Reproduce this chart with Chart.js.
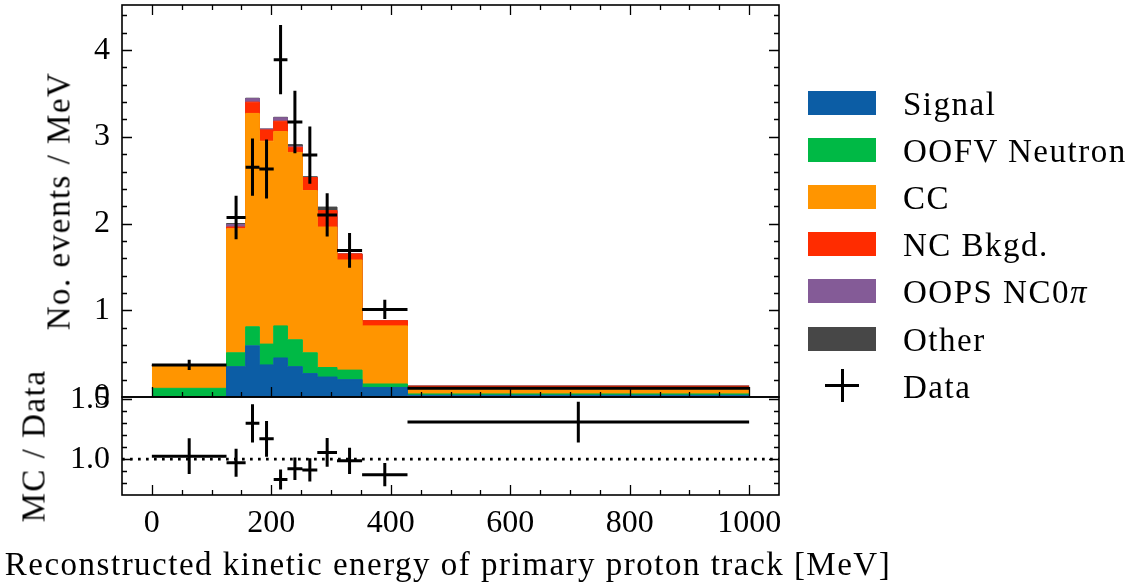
<!DOCTYPE html>
<html>
<head>
<meta charset="utf-8">
<script src="https://cdn.jsdelivr.net/npm/chart.js@4.4.1/dist/chart.umd.min.js"></script>
<style>
  body { margin: 0; background: #fff; }
  #wrap { position: relative; width: 1141px; height: 586px; font-family: 'Liberation Serif', serif; }
  canvas { position: absolute; left: 0; top: 0; }
  .key { position: absolute; left: 808px; width: 68px; height: 24px; }
  .txt { position: absolute; font-size: 33px; line-height: 33px; letter-spacing: 1.5px; color: #000; white-space: nowrap; }
  .rot { transform: translate(-50%, -50%) rotate(-90deg); }
  .bar { position: absolute; background: #000; }
</style>
</head>
<body>
<div id="wrap">
  <canvas id="main" width="1141" height="586"></canvas>
  <canvas id="ratio" width="1141" height="586"></canvas>
  <div id="legend"></div>
  <div class="txt rot" style="left:59px;top:201px">No. events / MeV</div>
  <div class="txt rot" style="left:34px;top:446px">MC / Data</div>
  <div class="txt" style="left:448px;top:548px;transform:translateX(-50%)">Reconstructed kinetic energy of primary proton track [MeV]</div>
</div>
<script>
// bin edges [MeV] and stacked MC components (events / MeV)
const edges = [0, 125, 157, 180, 204, 227, 252, 277, 310, 352, 428, 1000];
const signal      = [0.00, 0.35, 0.59, 0.37, 0.45, 0.35, 0.27, 0.23, 0.20, 0.11, 0.02];
const oofvNeutron = [0.10, 0.16, 0.22, 0.24, 0.37, 0.31, 0.24, 0.11, 0.11, 0.04, 0.015];
const cc          = [0.26, 1.43, 2.46, 2.34, 2.24, 2.16, 1.87, 1.62, 1.27, 0.67, 0.075];
const ncBkgd      = [0.005, 0.02, 0.13, 0.13, 0.12, 0.06, 0.15, 0.19, 0.07, 0.06, 0.015];
const oopsNC0pi   = [0.00, 0.03, 0.04, 0.01, 0.04, 0.01, 0.00, 0.00, 0.00, 0.00, 0.00];
const other       = [0.00, 0.01, 0.005, 0.00, 0.005, 0.02, 0.01, 0.04, 0.00, 0.00, 0.002];

// data points and MC / Data ratio
const dataVals  = [0.37, 2.07, 2.65, 2.63, 3.89, 3.17, 2.79, 2.10, 1.69, 1.01, 0.102];
const dataErr   = [0.06, 0.25, 0.33, 0.34, 0.40, 0.36, 0.33, 0.25, 0.20, 0.11, 0.01];
const ratioVals = [1.025, 0.97, 1.30, 1.17, 0.83, 0.92, 0.91, 1.056, 0.986, 0.87, 1.31];
const ratioErr  = [0.15, 0.117, 0.16, 0.15, 0.083, 0.094, 0.097, 0.12, 0.11, 0.097, 0.17];

const xTicks = [0, 200, 400, 600, 800, 1000];
const yTicks = [0, 1, 2, 3, 4];
const ratioTicks = [1.0, 1.5];

const labels = ['Signal', 'OOFV Neutron', 'CC', 'NC Bkgd.', 'OOPS NC0<i>π</i>', 'Other'];
const colors = ['#0C5DA5', '#00B945', '#FF9500', '#FF2C00', '#845B97', '#474747'];
const layers = [signal, oofvNeutron, cc, ncBkgd, oopsNC0pi, other];

Chart.defaults.font.family = "'Liberation Serif', serif";
Chart.defaults.font.size = 32;
Chart.defaults.color = '#000';

function histPoints(v) {
    return edges.map((e, k) => ({x: e, y: v[Math.min(k, v.length - 1)]}));
}

// horizontal bin-width bars and vertical error bars, broken by null points
function crossSegments(vals, errs) {
    const h = [], v = [];
    vals.forEach((val, k) => {
        const lo = edges[k], hi = edges[k + 1], mid = (lo + hi) / 2;
        h.push({x: lo, y: val}, {x: hi, y: val}, {x: hi, y: null});
        v.push({x: mid, y: val - errs[k]}, {x: mid, y: val + errs[k]}, {x: mid, y: null});
    });
    return [h, v];
}

function errLine(pts) {
    return {data: pts, borderColor: '#000', borderWidth: 3, borderCapStyle: 'butt',
            pointRadius: 0, fill: false, spanGaps: false, order: 0};
}

function steps(from, to, step) {
    const out = [];
    for (let i = 0; from + i * step <= to + 1e-9; i++) out.push(from + i * step);
    return out;
}

// fixed axis box sizes, no extra label padding
const noPad = s => { s.paddingTop = s.paddingBottom = s.paddingLeft = s.paddingRight = 0; };

// inward ticks + frame, matplotlib style
const frameTicks = {
    id: 'frameTicks',
    afterDatasetsDraw(chart, args, o) {
        const {ctx, chartArea: a, scales: {x, y}} = chart;
        ctx.save();
        ctx.strokeStyle = '#000';
        ctx.lineWidth = 1.3;
        ctx.beginPath();
        const xt = (vals, len) => vals.forEach(v => {
            const px = Math.round(x.getPixelForValue(v)) + 0.5;
            if (px < a.left + 1 || px > a.right - 1) return;
            ctx.moveTo(px, a.bottom); ctx.lineTo(px, a.bottom - len);
            if (o.top) { ctx.moveTo(px, a.top); ctx.lineTo(px, a.top + len); }
        });
        const yt = (vals, len) => vals.forEach(v => {
            const py = Math.round(y.getPixelForValue(v)) + 0.5;
            if (py < a.top + 1 || py > a.bottom - 1) return;
            ctx.moveTo(a.left, py); ctx.lineTo(a.left + len, py);
            ctx.moveTo(a.right, py); ctx.lineTo(a.right - len, py);
        });
        xt(steps(-50, 1050, 50), 5);
        xt(xTicks, 10);
        yt(steps(o.yMinor[0], o.yMinor[1], o.yMinor[2]), 5);
        yt(o.yMajor, 10);
        ctx.stroke();
        ctx.lineWidth = 1.6;
        ctx.strokeRect(a.left, a.top, a.right - a.left, a.bottom - a.top);
        ctx.restore();
    }
};

// cumulative stack
let base = dataVals.map(() => 0);
const stackSets = layers.map((vals, i) => {
    base = base.map((b, k) => b + vals[k]);
    return {
        data: histPoints(base.slice()),
        stepped: 'before',
        fill: i === 0 ? 'origin' : '-1',
        backgroundColor: colors[i],
        borderColor: colors[i],
        borderWidth: 1,
        pointRadius: 0,
        order: 2
    };
});

const [dataH, dataV] = crossSegments(dataVals, dataErr);
const [ratioH, ratioV] = crossSegments(ratioVals, ratioErr);

new Chart(document.getElementById('main'), {
    type: 'line',
    data: {datasets: [...stackSets, errLine(dataH), errLine(dataV)]},
    options: {
        responsive: false,
        animation: false,
        layout: {padding: {left: 0, right: 362, top: 5, bottom: 189}},
        plugins: {legend: {display: false}, tooltip: {enabled: false},
                  frameTicks: {top: true, yMajor: yTicks, yMinor: [0, 4.4, 0.2]}},
        scales: {
            x: {type: 'linear', min: -50, max: 1050, display: false},
            y: {
                min: 0, max: 4.52,
                grid: {display: false, drawTicks: false},
                border: {display: false},
                afterBuildTicks: s => { s.ticks = yTicks.map(v => ({value: v})); },
                afterFit: s => { s.width = 122; noPad(s); },
                ticks: {padding: 12, callback: v => String(v)}
            }
        }
    },
    plugins: [frameTicks]
});

new Chart(document.getElementById('ratio'), {
    type: 'line',
    data: {datasets: [
        {data: [{x: -50, y: 1}, {x: 1050, y: 1}], borderColor: '#000', borderWidth: 2.7,
         borderDash: [2.7, 5.3], pointRadius: 0, fill: false, order: 1},
        errLine(ratioH), errLine(ratioV)
    ]},
    options: {
        responsive: false,
        animation: false,
        layout: {padding: {left: 0, right: 362, top: 397, bottom: 0}},
        plugins: {legend: {display: false}, tooltip: {enabled: false},
                  frameTicks: {top: false, yMajor: ratioTicks, yMinor: [0.7, 1.5, 0.1]}},
        scales: {
            x: {
                type: 'linear', min: -50, max: 1050,
                grid: {display: false, drawTicks: false},
                border: {display: false},
                afterBuildTicks: s => { s.ticks = xTicks.map(v => ({value: v})); },
                afterFit: s => { s.height = 91; noPad(s); },
                ticks: {padding: 9, maxRotation: 0, callback: v => String(v)}
            },
            y: {
                min: 0.70, max: 1.52,
                grid: {display: false, drawTicks: false},
                border: {display: false},
                afterBuildTicks: s => { s.ticks = ratioTicks.map(v => ({value: v})); },
                afterFit: s => { s.width = 122; noPad(s); },
                ticks: {padding: 12, callback: v => v.toFixed(1)}
            }
        }
    },
    plugins: [frameTicks]
});

// legend
const legend = document.getElementById('legend');
labels.forEach((name, i) => {
    const cy = 102.5 + i * 47.2;
    legend.insertAdjacentHTML('beforeend',
        `<div class="key" style="top:${cy - 12}px;background:${colors[i]}"></div>` +
        `<div class="txt" style="left:903px;top:${cy - 15}px">${name}</div>`);
});
const dy = 102.5 + 6 * 47.2;
legend.insertAdjacentHTML('beforeend',
    `<div class="bar" style="left:825px;top:${dy - 1.5}px;width:34px;height:3px"></div>` +
    `<div class="bar" style="left:840.5px;top:${dy - 16.5}px;width:3px;height:33px"></div>` +
    `<div class="txt" style="left:903px;top:${dy - 15}px">Data</div>`);
</script>
</body>
</html>
